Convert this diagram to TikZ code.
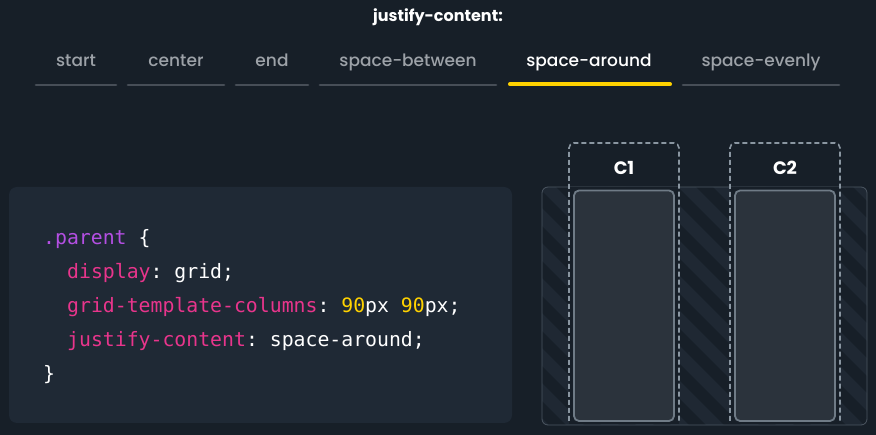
\documentclass[tikz,border=0pt]{standalone}
\usepackage{fontspec}
\setmainfont{Poppins}
\setmonofont{DejaVu Sans Mono}
\newfontfamily\tabfont{Poppins Medium}
\usetikzlibrary{positioning}
\definecolor{bgcol}{HTML}{171F28}
\definecolor{panelcol}{HTML}{1F2935}
\definecolor{stripecol}{HTML}{1F2833}
\definecolor{tabcol}{HTML}{9DA2A8}
\definecolor{tabline}{HTML}{474E57}
\definecolor{activecol}{HTML}{FFD200}
\definecolor{propcol}{HTML}{E8358C}
\definecolor{selcol}{HTML}{B44FE3}
\definecolor{numcol}{HTML}{FFD200}
\definecolor{itemcol}{HTML}{2B333C}
\definecolor{itemline}{HTML}{6F7B86}
\definecolor{trackline}{HTML}{8A96A1}
\definecolor{gridline}{HTML}{4C5661}
\tikzstyle{tab}=[text=tabcol,font=\tabfont\fontsize{17}{17}\selectfont,inner sep=0pt,anchor=base]
\tikzstyle{tabbar}=[line width=2.7pt,line cap=round,tabline]
\tikzstyle{code}=[font=\ttfamily\fontsize{19.8}{19.8}\selectfont,text=white,anchor=base west,inner sep=0pt]
\tikzstyle{stripe}=[line width=12.5pt,stripecol]
\tikzstyle{track}=[trackline,line width=1.6pt,dash pattern=on 5pt off 3pt,rounded corners=5pt]
\tikzstyle{item}=[draw=itemline,fill=itemcol,line width=1.8pt,rounded corners=5pt]
\tikzstyle{collabel}=[text=white,font=\bfseries\fontsize{18}{18}\selectfont,inner sep=0pt,anchor=base]

\begin{document}
\begin{tikzpicture}[x=1pt,y=-1pt]
  % background
  \fill[bgcol] (0,0) rectangle (876,435);
  \useasboundingbox (0,0) rectangle (876,435);
  % title and tabs
  \node[text=white,font=\bfseries\fontsize{16}{16}\selectfont,inner sep=0pt,anchor=base]
    (title) at (438,22) {justify-content:};
  \foreach \name/\x/\a/\b in {start/76/36/116, center/176/128/224, end/272/236/308,
      space-between/408/320/496, space-evenly/761/683/839} {
    \node[tab] (tab-\name) at (\x,67) {\name};
    \draw[tabbar] (\a,85) -- (\b,85);
  }
  \node[tab,text=white] (tab-space-around) at (589,67) {space-around};
  \draw[tabbar,activecol,line width=4pt] (510,84.3) -- (670,84.3);
  % code panel
  \fill[panelcol,rounded corners=8pt] (9,187) rectangle (512,423);
  \node[code] (sel) at (43,245) {\textcolor{selcol}{.parent} \{};
  \node[code] (display) at (67,279) {\textcolor{propcol}{display}: grid;};
  \node[code] (columns) at (67,313)
    {\textcolor{propcol}{grid-template-columns}: \textcolor{numcol}{90}px \textcolor{numcol}{90}px;};
  \node[code] (justify) at (67,347) {\textcolor{propcol}{justify-content}: space-around;};
  \node[code] (close) at (43,381) {\}};
  % grid container with stripes
  \begin{scope}
    \clip[rounded corners=6pt] (542,187) rectangle (867,425);
    \fill[bgcol] (542,187) rectangle (867,425);
    \foreach \x in {260,295,...,880}
      \draw[stripe] (\x,180) -- ++(260,260);
  \end{scope}
  \draw[gridline,line width=0.8pt,rounded corners=6pt] (542,187) rectangle (867,425);
  % columns
  \foreach \n/\l/\r in {1/569/679, 2/730/840} {
    \fill[bgcol] (\l,187.5) rectangle (\r,424.5);
    \draw[track] (\l,421) -- (\l,143) -- (\r,143) -- (\r,421);
    \draw[item] (\l+5,190.5) rectangle (\r-5,421);
    \node[collabel] (c\n) at ({(\l+\r)/2},175) {C\n};
  }
\end{tikzpicture}
\end{document}
